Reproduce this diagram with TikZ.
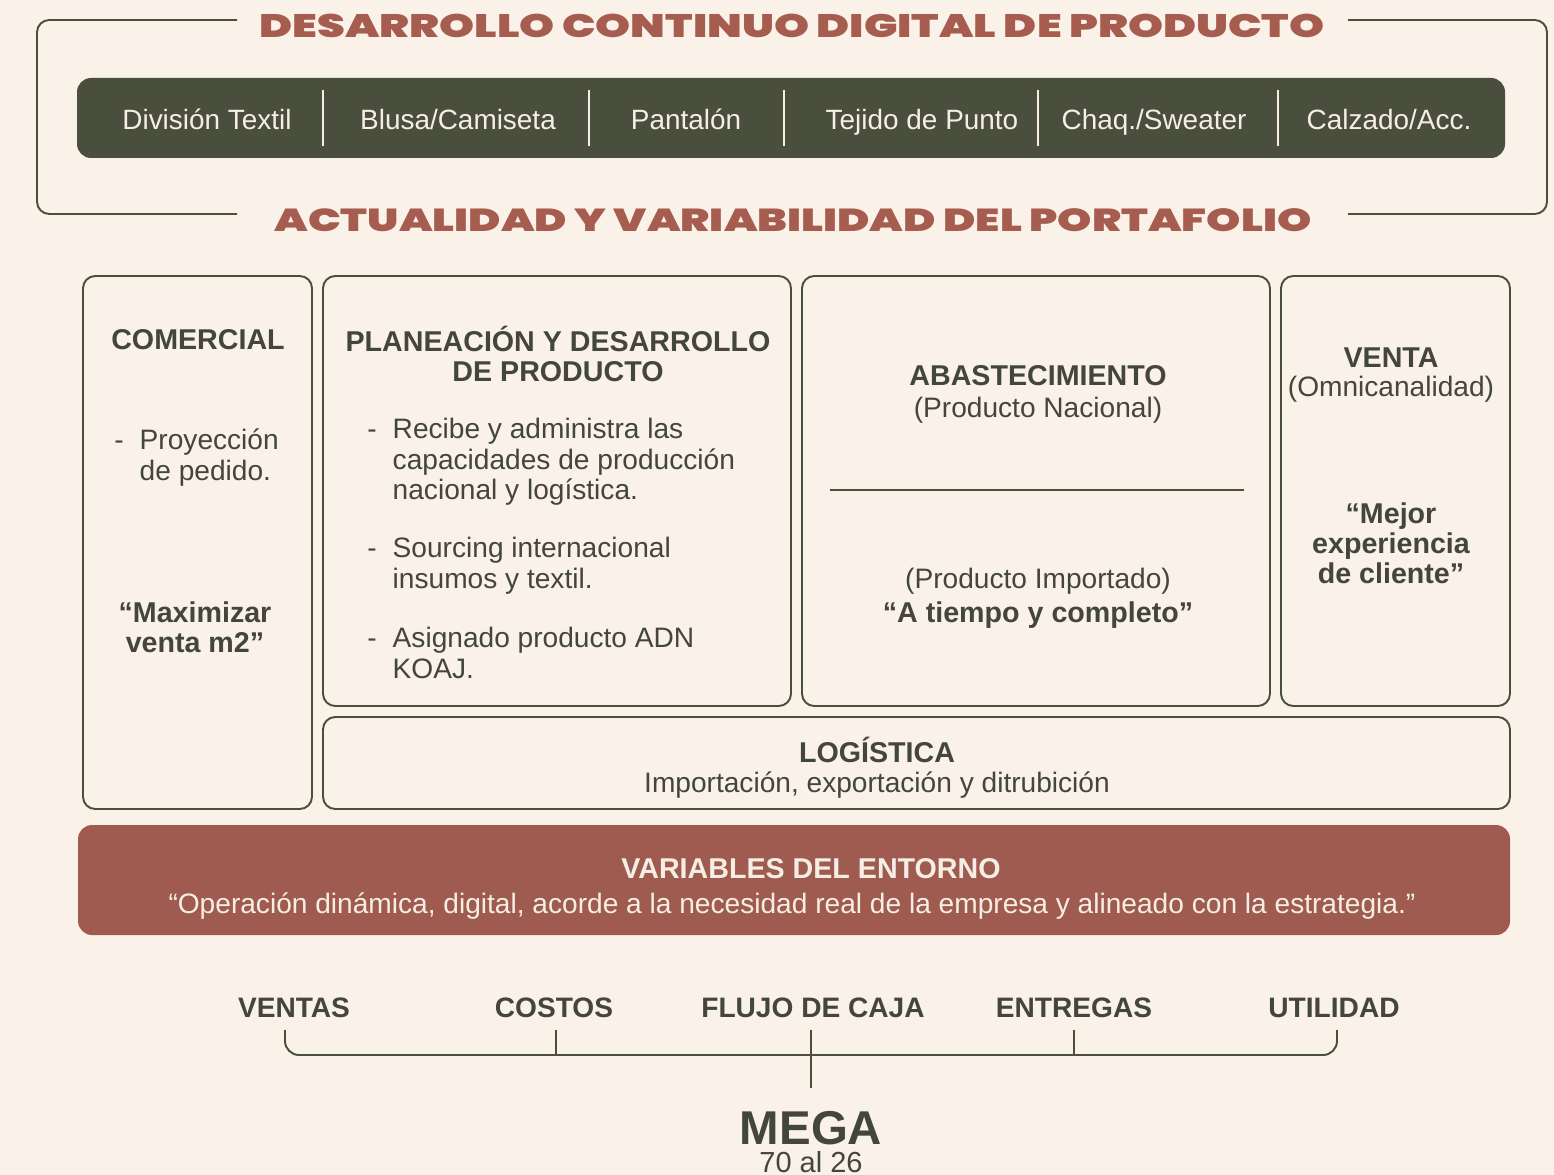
\documentclass[tikz,border=0pt]{standalone}
\usepackage{fontspec}
\setmainfont{Liberation Sans}
\newfontfamily\widefont{Poppins}[UprightFont={* Black}, FakeStretch=1.37]
\definecolor{paper}{HTML}{FAF1E8}
\definecolor{olive}{HTML}{4A4E3D}
\definecolor{ink}{HTML}{43463A}
\definecolor{brick}{HTML}{A65D50}
\definecolor{brickfill}{HTML}{9F5B4F}
\definecolor{cream}{HTML}{F6EEE4}
\begin{document}
\begin{tikzpicture}[x=0.02cm, y=-0.02cm, inner sep=0pt,
    frame/.style={draw=olive, line width=1.1pt, rounded corners=7pt},
    link/.style={draw=olive, line width=1.1pt},
    body/.style={text=ink, font=\fontsize{16}{17.2}\selectfont},
    head/.style={text=ink, font=\fontsize{16.3}{17.2}\selectfont\bfseries, align=center},
    banner/.style={text=brick, font=\fontsize{18.5}{20}\selectfont\widefont, anchor=base},
    tab/.style={text=cream, font=\fontsize{15.9}{18}\selectfont, anchor=base},
    goal/.style={text=ink, font=\fontsize{16}{18}\selectfont\bfseries, anchor=base}]
    \fill[paper] (0,0) rectangle (1554,1175);

    % portafolio frame
    \node[banner] (desarrollo) at (792,38) {DESARROLLO CONTINUO DIGITAL DE PRODUCTO};
    \node[banner, font=\fontsize{18.1}{20}\selectfont\widefont] (actualidad) at (793,232) {ACTUALIDAD Y VARIABILIDAD DEL PORTAFOLIO};
    \draw[frame] (237,20) -- (37,20) -- (37,214) -- (237,214);
    \draw[frame] (1348,20) -- (1547,20) -- (1547,214) -- (1348,214);
    \fill[olive, rounded corners=8pt] (77,78) rectangle (1505,158);
    \foreach \x in {323,589,784,1038,1278}
        \draw[cream, line width=1.2pt] (\x,90) -- (\x,146);
    \node[tab] (textil) at (207,130) {División Textil};
    \node[tab] (blusa) at (458,130) {Blusa/Camiseta};
    \node[tab] (pantalon) at (686,130) {Pantalón};
    \node[tab] (tejido) at (922,130) {Tejido de Punto};
    \node[tab] (chaqueta) at (1154,130) {Chaq./Sweater};
    \node[tab] (calzado) at (1389,130) {Calzado/Acc.};

    % areas
    \draw[frame] (83,276) rectangle (312,809);
    \draw[frame] (323,276) rectangle (791,706);
    \draw[frame] (802,276) rectangle (1270,706);
    \draw[frame] (1281,276) rectangle (1510,706);
    \draw[frame] (323,717) rectangle (1510,809);

    \node[head, anchor=base] (comercial) at (198,350) {COMERCIAL};
    \node[body, anchor=west] (proyeccion) at (114,459) {\begin{tabular}{@{}l@{\hspace{0.32cm}}l@{}}-&Proyección\\&de pedido.\end{tabular}};
    \node[head] (maximizar) at (195,627) {“Maximizar\\venta m2”};

    \node[head] (planeacion) at (558,354) {PLANEACIÓN Y DESARROLLO\\DE PRODUCTO};
    \node[body, anchor=west] (recibe) at (367,463) {\begin{tabular}{@{}l@{\hspace{0.32cm}}l@{}}-&Recibe y administra las\\&capacidades de producción\\&nacional y logística.\end{tabular}};
    \node[body, anchor=west] (sourcing) at (367,567) {\begin{tabular}{@{}l@{\hspace{0.32cm}}l@{}}-&Sourcing internacional\\&insumos y textil.\end{tabular}};
    \node[body, anchor=west] (asignado) at (367,657) {\begin{tabular}{@{}l@{\hspace{0.32cm}}l@{}}-&Asignado producto ADN\\&KOAJ.\end{tabular}};

    \node[head, anchor=base] (abastecimiento) at (1038,386) {ABASTECIMIENTO};
    \node[body, anchor=base] (nacional) at (1038,418) {(Producto Nacional)};
    \draw[link] (830,490) -- (1244,490);
    \node[body, anchor=base] (importado) at (1038,588) {(Producto Importado)};
    \node[head, anchor=base] (tiempo) at (1038,622) {“A tiempo y completo”};

    \node[head, anchor=base] (venta) at (1391,368) {VENTA};
    \node[body, anchor=base] (omnicanal) at (1391,397) {(Omnicanalidad)};
    \node[head] (experiencia) at (1391,543) {“Mejor\\experiencia\\de cliente”};

    \node[head, anchor=base] (logistica) at (877,762) {LOGÍSTICA};
    \node[body, anchor=base] (importacion) at (877,792) {Importación, exportación y ditrubición};

    % entorno
    \fill[brickfill, rounded corners=8pt] (78,825) rectangle (1510,935);
    \node[head, anchor=base, text=cream] (entorno) at (811,878) {VARIABLES DEL ENTORNO};
    \node[body, anchor=base, text=cream] (operacion) at (792,913) {“Operación dinámica, digital, acorde a la necesidad real de la empresa y alineado con la estrategia.”};

    % indicadores hacia la MEGA
    \node[goal] (ventas) at (294,1017) {VENTAS};
    \node[goal] (costos) at (554,1017) {COSTOS};
    \node[goal] (flujo) at (813,1017) {FLUJO DE CAJA};
    \node[goal] (entregas) at (1074,1017) {ENTREGAS};
    \node[goal] (utilidad) at (1334,1017) {UTILIDAD};
    \node[text=ink, font=\fontsize{27}{30}\selectfont\bfseries, anchor=base, text depth=0pt] (mega) at (811,1144) {MEGA};
    \node[body, font=\fontsize{16.5}{20}\selectfont, anchor=base, text height=11.5pt] (plazo) at (811,1172) {70 al 26};
    \coordinate (bl) at (285,1030);
    \coordinate (br) at (1337,1030);
    \coordinate (megatop) at (811,1088);
    \draw[link, rounded corners=8pt] (bl) -- (285,1055) -- (1337,1055) -- (br);
    \foreach \x in {556,1074}
        \draw[link] (\x,1030) -- (\x,1055);
    \draw[link] (811,1030) -- (megatop);
\end{tikzpicture}
\end{document}
